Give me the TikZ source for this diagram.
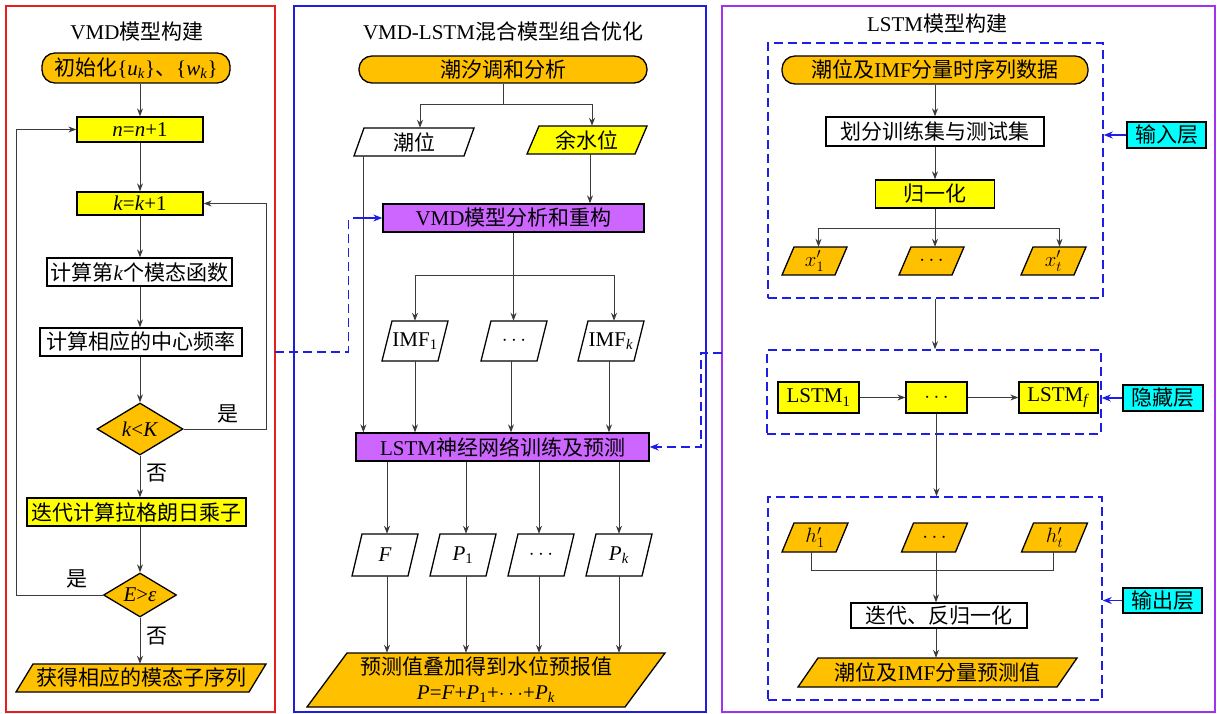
\documentclass[tikz,border=0pt]{standalone}
\usepackage{fontspec}
\setmainfont{Liberation Serif}
\newfontfamily\cjk{Noto Sans CJK SC}
\usetikzlibrary{arrows.meta,shapes.geometric,calc}
\newcommand\zh[1]{{\cjk #1}}
\definecolor{cOr}{RGB}{255,192,0}
\definecolor{cYe}{RGB}{255,255,0}
\definecolor{cPu}{RGB}{204,102,255}
\definecolor{cCy}{RGB}{0,255,255}
\definecolor{cDash}{RGB}{30,30,230}
\definecolor{cRed}{RGB}{232,30,30}
\definecolor{cBlueP}{RGB}{30,30,220}
\definecolor{cPurP}{RGB}{160,50,240}
\definecolor{cLine}{RGB}{60,60,60}
% name, cx, cy, w, h, slant, fill, text
\newcommand\pgram[8]{%
  \filldraw[fill=#7,draw=black,line width=1.3pt]
    ({#2-#4/2},{#3+#5/2}) -- ({#2+#4/2-#6},{#3+#5/2}) -- ({#2+#4/2},{#3-#5/2}) -- ({#2-#4/2+#6},{#3-#5/2}) -- cycle;
  \node[inner sep=0pt,align=center,minimum width={#4-#6},minimum height=#5] (#1) at (#2,#3) {#8};
}
\begin{document}
\begin{tikzpicture}[x=1pt,y=-1pt,
  every node/.style={font=\fontsize{21}{27}\selectfont},
  box/.style={draw=black,line width=1.3pt,inner sep=0pt,rectangle,align=center},
  term/.style={box,rounded corners=13pt},
  dia/.style={diamond,draw=black,line width=1.3pt,fill=cOr,inner sep=0pt,aspect=1.65},
  arr/.style={draw=cLine,line width=0.9pt,-{Stealth[length=8pt,width=6pt]}},
  ln/.style={draw=cLine,line width=0.9pt},
  dashlink/.style={draw=cDash,line width=1.5pt,dash pattern=on 9pt off 5pt},
  bluearr/.style={draw=cDash,line width=1.5pt,-{Stealth[length=9pt,width=7pt]}},
  dbox/.style={draw=cDash,line width=1.5pt,dash pattern=on 9pt off 5pt,inner sep=0pt,rectangle},
  panel/.style={line width=2pt,inner sep=0pt,rectangle}
]
\useasboundingbox (0,0) rectangle (1225,714);
% panels
\node[panel,draw=cRed,minimum width=269,minimum height=706] (pL) at (140.5,359) {};
\node[panel,draw=cBlueP,minimum width=412,minimum height=706] (pM) at (500,359) {};
\node[panel,draw=cPurP,minimum width=493,minimum height=706] (pR) at (968.5,359) {};

% ---------------- left ----------------
\node (tL) at (137,32) {VMD\zh{模型构建}};
\node[term,fill=cOr,minimum width=188,minimum height=30] (s1) at (136,68) {\zh{初始化}\{\textit{u}\textsubscript{\textit{k}}\}\zh{、}\{\textit{w}\textsubscript{\textit{k}}\}};
\node[box,fill=cYe,minimum width=126,minimum height=25] (n1) at (140,129.5) {\textit{n}=\textit{n}+1};
\node[box,fill=cYe,minimum width=126,minimum height=23] (k1) at (140,203.5) {\textit{k}=\textit{k}+1};
\node[box,fill=white,minimum width=185,minimum height=28] (c1) at (139.5,272) {\zh{计算第}\textit{k}\zh{个模态函数}};
\node[box,fill=white,minimum width=202,minimum height=28] (c2) at (141,342) {\zh{计算相应的中心频率}};
\node[dia,minimum width=86,minimum height=52] (d1) at (140,429) {\textit{k}<\textit{K}};
\node[box,fill=cYe,minimum width=219,minimum height=28] (c3) at (136.5,512) {\zh{迭代计算拉格朗日乘子}};
\node[dia,minimum width=73,minimum height=44] (d2) at (140,595) {\textit{E}>\textit{ε}};
\pgram{o1}{141}{678}{250}{28}{17}{cOr}{\zh{获得相应的模态子序列}}

\draw[arr] (s1.south -| n1) -- (n1.north);
\draw[arr] (n1.south) -- (k1.north);
\draw[arr] (k1.south) -- (k1.south |- c1.north);
\draw[arr] (c1.south -| k1) -- (c2.north -| k1);
\draw[arr] (c2.south -| k1) -- (d1.north);
\draw[arr] (d1.south) -- (d1.south |- c3.north);
\draw[arr] (c3.south -| d2) -- (d2.north);
\draw[arr] (d2.south) -- (d2.south |- o1.north);
\draw[arr] (d1.east) -- ++(83,0) |- (k1.east);
\draw[arr] (d2.west) -- ++(-86.5,0) |- (n1.west);
\node (y1) at (228,414) {\zh{是}};
\node (no1) at (157,473) {\zh{否}};
\node (y2) at (77,579) {\zh{是}};
\node (no2) at (157,636) {\zh{否}};

% ---------------- middle ----------------
\node (tM) at (503,32) {VMD-LSTM\zh{混合模型组合优化}};
\node[term,fill=cOr,minimum width=288,minimum height=27] (m1) at (503,69.5) {\zh{潮汐调和分析}};
\pgram{tl}{414}{142}{120}{28}{10}{white}{\zh{潮位}}
\pgram{rw}{587}{140}{120}{28}{12}{cYe}{\zh{余水位}}
\path (m1.south) ++(0,21) coordinate (b1);
\draw[ln] (m1.south) -- (b1);
\draw[arr] (b1) -| ([xshift=6pt]tl.north);
\draw[arr] (b1) -| ([xshift=5pt]rw.north);
\node[box,fill=cPu,minimum width=261,minimum height=28] (vmd) at (513.5,218) {VMD\zh{模型分析和重构}};
\draw[arr] ([xshift=3pt]rw.south) -- ([xshift=3pt]rw.south |- vmd.north);
\pgram{i1}{415}{341}{66}{40}{10}{white}{IMF\textsubscript{1}}
\pgram{id}{514}{341}{66}{40}{10}{white}{$\cdots$}
\pgram{ik}{611}{341}{66}{40}{10}{white}{IMF\textsubscript{\textit{k}}}
\path (vmd.south) ++(0,43) coordinate (b2);
\draw[arr] (vmd.south) -- (vmd.south |- id.north);
\draw[arr] (b2) -| (i1.north);
\draw[arr] (b2) -| ([xshift=3pt]ik.north);
\node[box,fill=cPu,minimum width=293,minimum height=28] (lstm) at (502.5,447) {LSTM\zh{神经网络训练及预测}};
\draw[arr] (i1.south) -- (i1.south |- lstm.north);
\draw[arr] ([xshift=-3pt]id.south) -- ([xshift=-3pt]id.south |- lstm.north);
\draw[arr] ([xshift=-2pt]ik.south) -- ([xshift=-2pt]ik.south |- lstm.north);
\draw[arr] ([xshift=8pt]lstm.north west |- tl.south) -- ([xshift=8pt]lstm.north west);
\pgram{F}{385}{555}{66}{42}{10}{white}{\textit{F}}
\pgram{P1}{463}{555}{66}{42}{10}{white}{\textit{P}\textsubscript{1}}
\pgram{Pd}{541}{555}{66}{42}{10}{white}{$\cdots$}
\pgram{Pk}{619}{555}{66}{42}{10}{white}{\textit{P}\textsubscript{\textit{k}}}
\foreach \n/\s in {F/2,P1/3,Pd/-2,Pk/0}{
  \draw[arr] ([xshift=\s pt]lstm.south -| \n) -- ([xshift=\s pt]\n.north);
}
\pgram{fin}{486}{680}{358}{54}{40}{cOr}{\zh{预测值叠加得到水位预报值}\\[-2pt]\textit{P}=\textit{F}+\textit{P}\textsubscript{1}+$\cdots$+\textit{P}\textsubscript{\textit{k}}}
\foreach \n/\s in {F/2,P1/3,Pd/-2,Pk/0}{
  \draw[arr] ([xshift=\s pt]\n.south) -- ([xshift=\s pt]\n.south |- fin.north);
}
% dashed links
\coordinate (lk1) at (275,352);
\draw[dashlink] (lk1) -| ([xshift=-34pt]vmd.west);
\draw[bluearr] ([xshift=-29pt]vmd.west) -- (vmd.west);
\coordinate (rk1) at (722,353);
\draw[dashlink,-{Stealth[length=9pt,width=7pt]}] (rk1) -- (701,353) |- (lstm.east);

% ---------------- right ----------------
\node (tR) at (937,24) {LSTM\zh{模型构建}};
\node[dbox,minimum width=335,minimum height=255] (inL) at (935.5,170.5) {};
\node[dbox,minimum width=334,minimum height=84] (hid) at (934,392) {};
\node[dbox,minimum width=334,minimum height=203] (outL) at (935,598.5) {};

\node[term,fill=cOr,minimum width=306,minimum height=28] (r1) at (935,70) {\zh{潮位及}IMF\zh{分量时序列数据}};
\node[box,fill=white,minimum width=218,minimum height=29] (r2) at (935,131.5) {\zh{划分训练集与测试集}};
\node[box,fill=cYe,minimum width=119,minimum height=28] (r3) at (935,194) {\zh{归一化}};
\pgram{x1}{814.5}{261}{65}{28}{12}{cOr}{$x'_{1}$}
\pgram{xd}{931.5}{261}{65}{28}{12}{cOr}{$\cdots$}
\pgram{xt}{1053.5}{261}{65}{28}{12}{cOr}{$x'_{t}$}
\draw[arr] (r1.south) -- (r2.north);
\draw[arr] (r2.south) -- (r3.north);
\path (r3.south) ++(0,20) coordinate (b3);
\draw[arr] (r3.south) -- (r3.south |- xd.north);
\draw[arr] (b3) -| ([xshift=4pt]x1.north);
\draw[arr] (b3) -| ([xshift=6pt]xt.north);
\node[box,fill=cCy,minimum width=79,minimum height=26] (lin) at (1166.5,135) {\zh{输入层}};
\draw[bluearr] (lin.west) -- (lin.west -| inL.east);

\draw[arr] (inL.south -| r1) -- (hid.north -| r1);
\node[box,fill=cYe,minimum width=81,minimum height=31] (L1) at (818.5,397.5) {LSTM\textsubscript{1}};
\node[box,fill=cYe,minimum width=61,minimum height=31] (Ld) at (936.5,397.5) {$\cdots$};
\node[box,fill=cYe,minimum width=79,minimum height=31] (Lf) at (1058.5,397.5) {LSTM\textsubscript{\textit{f}}};
\draw[arr] (L1) -- (Ld);
\draw[arr] (Ld) -- (Lf);
\node[box,fill=cCy,minimum width=80,minimum height=26] (lhid) at (1163,398) {\zh{隐藏层}};
\draw[bluearr] (lhid.west) -- (lhid.west -| hid.east);

\draw[arr] (Ld.south) -- (Ld.south |- outL.north);
\pgram{h1}{815}{537.5}{66}{29}{12}{cOr}{$h'_{1}$}
\pgram{hd}{934.5}{537.5}{66}{29}{12}{cOr}{$\cdots$}
\pgram{ht}{1054.5}{537.5}{66}{29}{12}{cOr}{$h'_{t}$}
\node[box,fill=white,minimum width=176,minimum height=25] (it) at (939,615.5) {\zh{迭代、反归一化}};
\draw[ln] ([xshift=-4pt]h1.south) -- ++(0,18) -| ([xshift=-1pt]ht.south);
\draw[arr] ([xshift=1.5pt]hd.south) -- ([xshift=1.5pt]hd.south |- it.north);
\pgram{pr}{937.5}{672.5}{279}{29}{20}{cOr}{\zh{潮位及}IMF\zh{分量预测值}}
\draw[arr] ([xshift=1.5pt]it.south -| hd) -- ([xshift=1.5pt]pr.north -| hd);
\node[box,fill=cCy,minimum width=79,minimum height=25] (lout) at (1162.5,600.5) {\zh{输出层}};
\draw[bluearr] (lout.west) -- (lout.west -| outL.east);
\end{tikzpicture}
\end{document}
